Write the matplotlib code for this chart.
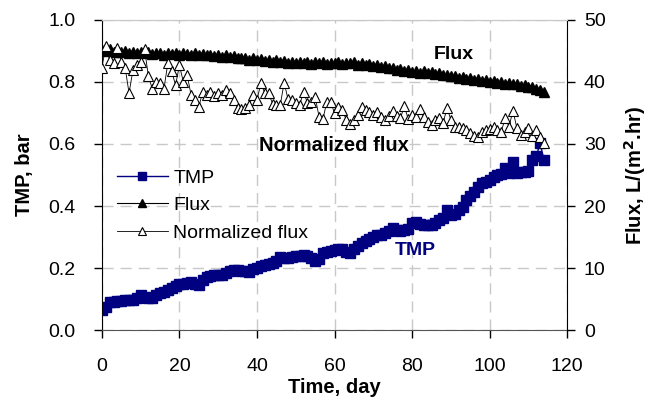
import matplotlib
matplotlib.use("Agg")
import matplotlib.pyplot as plt
from matplotlib.ticker import FormatStrFormatter

plt.rcParams["font.family"] = ["Liberation Sans", "DejaVu Sans"]

# days of operation
days = list(range(115))

# transmembrane pressure, bar
tmp = [
    0.065, 0.075, 0.090, 0.092, 0.093, 0.095, 0.096, 0.097, 0.097, 0.103,
    0.112, 0.108, 0.104, 0.103, 0.112, 0.118, 0.122, 0.129, 0.135, 0.142,
    0.147, 0.150, 0.152, 0.155, 0.150, 0.144, 0.160, 0.172, 0.175, 0.177,
    0.177, 0.178, 0.185, 0.190, 0.194, 0.193, 0.192, 0.190, 0.188, 0.196,
    0.200, 0.205, 0.210, 0.212, 0.215, 0.222, 0.236, 0.232, 0.233, 0.235,
    0.238, 0.240, 0.242, 0.240, 0.232, 0.222, 0.228, 0.250, 0.253, 0.255,
    0.258, 0.263, 0.262, 0.252, 0.247, 0.262, 0.272, 0.280, 0.288, 0.295,
    0.300, 0.306, 0.308, 0.312, 0.320, 0.328, 0.323, 0.318, 0.322, 0.326,
    0.344, 0.349, 0.343, 0.340, 0.339, 0.340, 0.345, 0.355, 0.360, 0.387,
    0.371, 0.375, 0.388, 0.398, 0.419, 0.432, 0.446, 0.460, 0.473, 0.478,
    0.484, 0.495, 0.500, 0.503, 0.521, 0.505, 0.543, 0.508, 0.511, 0.511,
    0.512, 0.548, 0.560, 0.602, 0.550,
]

# flux, L/(m2.hr)
flux = [
    45.2, 45.0, 45.3, 44.9, 45.1, 44.8, 45.0, 44.7, 44.9, 44.6,
    44.8, 44.6, 44.8, 44.5, 44.7, 44.6, 44.4, 44.7, 44.5, 44.6,
    44.4, 44.6, 44.5, 44.4, 44.6, 44.3, 44.5, 44.3, 44.4, 44.2,
    44.4, 44.1, 44.3, 44.0, 44.2, 43.9, 43.8, 43.9, 43.6, 43.8,
    43.5, 43.7, 43.4, 43.6, 43.3, 43.5, 43.2, 43.4, 43.1, 43.3,
    43.0, 43.2, 43.0, 43.2, 42.9, 43.2, 43.0, 43.2, 42.9, 43.1,
    43.0, 43.2, 42.9, 43.1, 43.0, 43.2, 42.8, 43.0, 42.7, 42.9,
    42.6, 42.8, 42.4, 42.6, 42.2, 42.3, 41.9, 42.1, 41.8, 41.9,
    41.6, 41.8, 41.5, 41.7, 41.4, 41.6, 41.3, 41.4, 41.1, 41.2,
    40.9, 41.0, 40.7, 40.8, 40.5, 40.6, 40.3, 40.4, 40.1, 40.3,
    40.0, 40.2, 39.9, 40.0, 39.7, 39.9, 39.6, 39.7, 39.4, 39.5,
    39.2, 39.2, 38.9, 38.7, 38.4,
]

# normalized flux, L/(m2.hr)
norm_flux = [
    42.3, 45.8, 43.5, 43.0, 45.5, 43.3, 42.3, 38.2, 41.9, 42.7,
    43.3, 45.3, 40.9, 38.9, 40.0, 39.8, 38.9, 43.0, 41.7, 39.5,
    42.7, 40.0, 41.1, 37.9, 37.1, 36.0, 38.4, 37.9, 38.4, 37.7,
    38.3, 37.9, 38.7, 38.2, 37.1, 35.8, 35.6, 35.8, 36.3, 37.9,
    37.1, 39.8, 38.2, 38.2, 36.5, 36.3, 36.3, 39.9, 37.2, 37.1,
    36.6, 36.3, 38.4, 36.6, 36.7, 37.6, 34.4, 34.0, 36.8, 36.7,
    35.0, 36.0, 35.5, 33.9, 33.2, 33.8, 34.7, 36.0, 35.5, 35.2,
    34.7, 35.2, 34.4, 33.9, 34.5, 35.4, 34.5, 34.2, 36.1, 34.0,
    34.7, 34.3, 35.6, 34.4, 33.6, 33.1, 33.9, 34.2, 33.4, 35.8,
    33.9, 32.8, 32.7, 32.6, 32.2, 31.8, 31.3, 31.2, 32.0, 32.2,
    32.4, 32.8, 32.3, 32.0, 34.2, 32.8, 35.4, 32.6, 31.5, 32.0,
    32.6, 31.3, 32.3, 31.2, 30.2,
]

navy = "#000080"

fig = plt.figure(figsize=(6.49, 4.07), dpi=100)
ax = fig.add_axes([0.157, 0.189, 0.717, 0.762])
ax2 = ax.twinx()

l_tmp, = ax.plot(days, tmp, color=navy, lw=1.0, marker="s", ms=7,
                 mfc=navy, mec=navy, label="TMP")
l_flux, = ax2.plot(days, flux, color="black", lw=0.8, marker="^", ms=6.5,
                   mfc="black", mec="black", label="Flux")
l_norm, = ax2.plot(days, norm_flux, color="black", lw=0.6, marker="^", ms=7.5,
                   mfc="white", mec="black", mew=0.8, label="Normalized flux")

ax.set_xlim(0, 120)
ax.set_ylim(0, 1.0)
ax2.set_ylim(0, 50)
ax.set_xticks(range(0, 121, 20))
ax.set_yticks([0.0, 0.2, 0.4, 0.6, 0.8, 1.0])
ax2.set_yticks(range(0, 51, 10))
ax.yaxis.set_major_formatter(FormatStrFormatter("%.1f"))

ax.grid(True, color="#c8c8c8", ls=(0, (8, 5)), lw=1.0)
ax.set_axisbelow(True)

for a in (ax, ax2):
    a.spines["top"].set_color("#c8c8c8")
    a.tick_params(labelsize=14, direction="out", length=6, width=1)
ax.spines["bottom"].set_color("#555555")
ax2.spines["bottom"].set_visible(False)
ax2.spines["left"].set_visible(False)
ax.spines["right"].set_visible(False)
ax.tick_params(axis="y", pad=13)
ax.tick_params(axis="x", pad=14)
ax2.tick_params(axis="y", pad=6)

ax.set_xlabel("Time, day", fontsize=14.5, fontweight="bold", labelpad=2)
ax.set_ylabel("TMP, bar", fontsize=14.5, fontweight="bold", labelpad=10)
ax2.set_ylabel("Flux, L/(m$^\\mathbf{2}$.hr)", fontsize=14.5, fontweight="bold",
               labelpad=12)

ax2.text(90.8, 44.4, "Flux", fontsize=14, fontweight="bold",
         ha="center", va="center")
ax2.text(59.9, 29.8, "Normalized flux", fontsize=14.5, fontweight="bold",
         ha="center", va="center")
ax.text(80.8, 0.258, "TMP", fontsize=14, fontweight="bold", color=navy,
        ha="center", va="center")

leg = ax2.legend(handles=[l_tmp, l_flux, l_norm], loc="upper left",
                 bbox_to_anchor=(-0.005, 0.575), frameon=False, fontsize=14,
                 handlelength=2.6, labelspacing=0.5, handletextpad=0.3,
                 markerscale=0.8)

fig.savefig("out.png", dpi=100)
